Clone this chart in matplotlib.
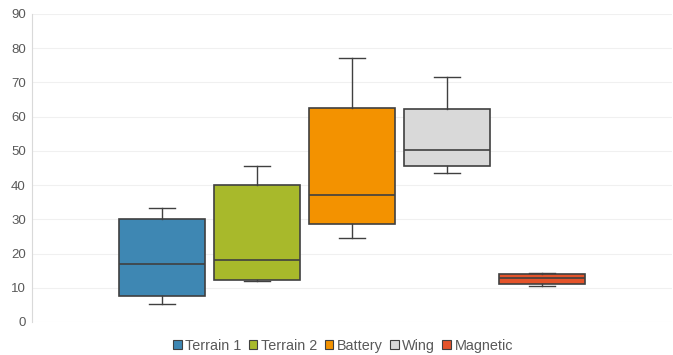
import matplotlib.pyplot as plt
from matplotlib.patches import Patch

plt.rcParams['font.family'] = ['Liberation Sans', 'DejaVu Sans']

# series
labels = ['Terrain 1', 'Terrain 2', 'Battery', 'Wing', 'Magnetic']
colors = ['#3E87B3', '#A8B92B', '#F39200', '#D9D9D9', '#E4532A']
whislo = [5.4, 12.0, 24.5, 43.6, 10.6]
q1 = [7.5, 12.2, 28.5, 45.7, 11.1]
med = [16.9, 18.1, 37.0, 50.2, 12.8]
q3 = [30.1, 40.1, 62.4, 62.1, 14.1]
whishi = [33.4, 45.6, 77.1, 71.5, 14.4]

stats = []
for i in range(len(labels)):
    stats.append(dict(label=labels[i], whislo=whislo[i], q1=q1[i], med=med[i],
                      q3=q3[i], whishi=whishi[i], fliers=[]))

fig = plt.figure(figsize=(6.73, 3.55), dpi=100)
ax = fig.add_axes([32 / 673, 33 / 355, 640 / 673, 308 / 355])

line_col = '#404040'
bp = ax.bxp(stats, positions=range(1, 6), widths=0.905, patch_artist=True,
            showfliers=False,
            boxprops=dict(edgecolor=line_col, linewidth=1.2),
            medianprops=dict(color=line_col, linewidth=1.2),
            whiskerprops=dict(color=line_col, linewidth=1.0),
            capprops=dict(color=line_col, linewidth=1.0),
            capwidths=0.27)
for patch, c in zip(bp['boxes'], colors):
    patch.set_facecolor(c)

ax.set_xlim(1 - 1.37, 5 + 1.37)
ax.set_ylim(0, 90)
ax.set_yticks(range(0, 91, 10))
ax.set_xticks([])
ax.yaxis.grid(True, color='#F0F0F0', linewidth=0.8)
ax.set_axisbelow(True)
for s in ['top', 'right', 'bottom']:
    ax.spines[s].set_visible(False)
ax.spines['left'].set_color('#D9D9D9')
ax.tick_params(axis='y', length=0, labelsize=9.5, labelcolor='#595959', pad=4.5)

handles = [Patch(facecolor=c, edgecolor='#404040', linewidth=0.8) for c in colors]
fig.legend(handles, labels, loc='center', bbox_to_anchor=(343 / 673, 1 - 346 / 355),
           ncol=5, frameon=False, fontsize=10.4, labelcolor='#595959',
           handlelength=0.6, handleheight=0.6, handletextpad=0.25, columnspacing=0.5)

plt.savefig('out.png', dpi=100)
